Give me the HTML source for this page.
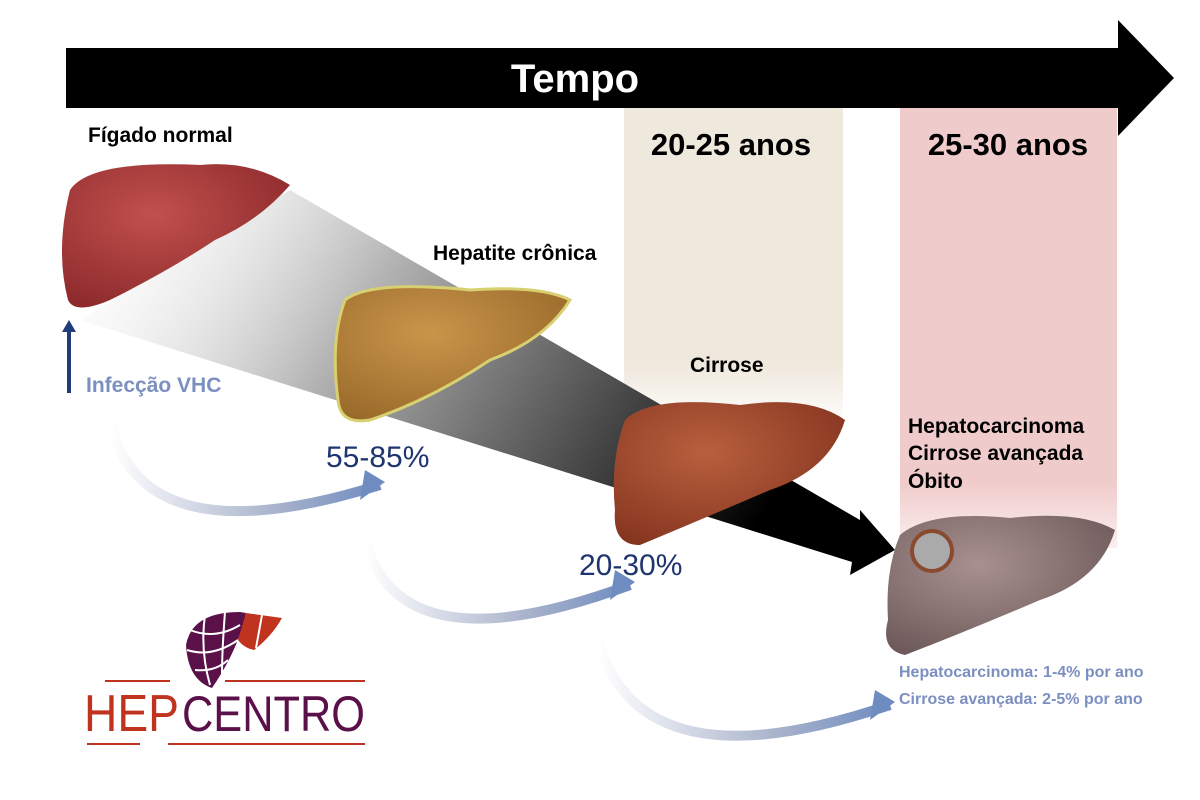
<!DOCTYPE html>
<html><head><meta charset="utf-8"><style>
body{margin:0;background:#fff;}
svg{display:block;font-family:"Liberation Sans",Arial,sans-serif;}
</style></head><body>
<svg width="1200" height="800" viewBox="0 0 1200 800">
<defs>
<linearGradient id="wedge" x1="0" y1="0" x2="1" y2="0.3">
<stop offset="0" stop-color="#fff" stop-opacity="0"/>
<stop offset="0.4" stop-color="#b4b4b4"/>
<stop offset="1" stop-color="#000"/>
</linearGradient>
<linearGradient id="beige" x1="0" y1="0" x2="0" y2="1">
<stop offset="0.8" stop-color="#efe8dc"/><stop offset="1" stop-color="#efe8dc" stop-opacity="0"/>
</linearGradient>
<linearGradient id="pink" x1="0" y1="0" x2="0" y2="1">
<stop offset="0.85" stop-color="#f0cbcb"/><stop offset="1" stop-color="#f0cbcb" stop-opacity="0.3"/>
</linearGradient>
<linearGradient id="curve" x1="0" y1="0" x2="1" y2="0">
<stop offset="0" stop-color="#fff"/><stop offset="0.6" stop-color="#aab4cc"/><stop offset="1" stop-color="#6f8cc0"/>
</linearGradient>
<radialGradient id="lr" cx="0.4" cy="0.35" r="0.7"><stop offset="0" stop-color="#c0504d"/><stop offset="1" stop-color="#8e2a2c"/></radialGradient>
<radialGradient id="lh" cx="0.4" cy="0.35" r="0.7"><stop offset="0" stop-color="#c8954a"/><stop offset="1" stop-color="#9a6a2a"/></radialGradient>
<radialGradient id="lc" cx="0.4" cy="0.35" r="0.7"><stop offset="0" stop-color="#b8603e"/><stop offset="1" stop-color="#863520"/></radialGradient>
<radialGradient id="lg" cx="0.4" cy="0.35" r="0.7"><stop offset="0" stop-color="#a89090"/><stop offset="1" stop-color="#6e5a5a"/></radialGradient>
</defs>
<rect x="624" y="108" width="219" height="320" fill="url(#beige)"/>
<rect x="900" y="108" width="217" height="440" fill="url(#pink)"/>
<rect x="66" y="48" width="1056" height="60" fill="#000"/>
<polygon points="1118,20 1174,78 1118,136" fill="#000"/>
<text x="575" y="92" font-size="40" font-weight="bold" fill="#fff" text-anchor="middle">Tempo</text>
<text x="731" y="155" font-size="31" font-weight="bold" text-anchor="middle">20-25 anos</text>
<text x="1008" y="155" font-size="31" font-weight="bold" text-anchor="middle">25-30 anos</text>
<polygon points="290,190 860,520 860,510 895,550 850,575 852,562 80,320" fill="url(#wedge)"/>
<path d="M70,190 Q90,160 200,165 Q250,160 290,185 Q260,220 215,240 Q170,270 110,300 Q75,315 68,300 Q55,250 70,190Z" fill="url(#lr)"/>
<path d="M345,300 Q370,280 470,290 Q540,285 570,300 Q545,340 490,360 Q430,400 370,420 Q340,425 338,400 Q330,340 345,300Z" fill="url(#lh)" stroke="#d8d070" stroke-width="3"/>
<path d="M625,420 Q650,395 740,405 Q810,395 845,420 Q830,470 770,490 Q700,520 640,545 Q612,545 615,510 Q610,460 625,420Z" fill="url(#lc)"/>
<path d="M900,535 Q930,510 1010,518 Q1080,510 1115,530 Q1100,580 1040,600 Q970,630 905,655 Q880,650 888,620 Q885,570 900,535Z" fill="url(#lg)"/>
<circle cx="932" cy="551" r="20" fill="#aaa" stroke="#8a4a30" stroke-width="4"/>
<path d="M110,420 Q140,560 380,485" fill="none" stroke="url(#curve)" stroke-width="10"/>
<polygon points="365,470 385,482 360,500" fill="#6f8cc0"/>
<path d="M365,540 Q400,670 630,585" fill="none" stroke="url(#curve)" stroke-width="10"/>
<polygon points="615,570 635,582 610,600" fill="#6f8cc0"/>
<path d="M598,640 Q640,790 890,705" fill="none" stroke="url(#curve)" stroke-width="10"/>
<polygon points="875,690 895,702 870,720" fill="#6f8cc0"/>
<line x1="69" y1="393" x2="69" y2="330" stroke="#1f3d7a" stroke-width="4"/>
<polygon points="62,332 69,320 76,332" fill="#1f3d7a"/>
<text x="88" y="142" font-size="21" font-weight="bold">Fígado normal</text>
<text x="433" y="260" font-size="21" font-weight="bold">Hepatite crônica</text>
<text x="690" y="372" font-size="21" font-weight="bold">Cirrose</text>
<text x="908" y="433" font-size="21" font-weight="bold">Hepatocarcinoma</text>
<text x="908" y="460" font-size="21" font-weight="bold">Cirrose avançada</text>
<text x="908" y="488" font-size="21" font-weight="bold">Óbito</text>
<text x="86" y="392" font-size="21" font-weight="bold" fill="#7b8fc0">Infecção VHC</text>
<text x="326" y="467" font-size="30" fill="#1f3570">55-85%</text>
<text x="579" y="575" font-size="30" fill="#1f3570">20-30%</text>
<text x="899" y="677" font-size="16" font-weight="bold" fill="#7b8fc0">Hepatocarcinoma: 1-4% por ano</text>
<text x="899" y="704" font-size="16" font-weight="bold" fill="#7b8fc0">Cirrose avançada: 2-5% por ano</text>
<path d="M186,645 Q192,612 240,612 L246,613 Q238,650 212,688 Q188,680 186,645Z" fill="#5a1048"/>
<path d="M246,613 L282,618 Q272,636 254,650 Q244,648 238,640Z" fill="#c0331f"/>
<g stroke="#fff" stroke-width="2" fill="none">
<path d="M190,630 Q215,640 240,625"/><path d="M187,650 Q212,658 238,640"/><path d="M195,670 Q215,672 228,660"/>
<path d="M205,615 Q200,650 210,685"/><path d="M225,612 Q222,650 222,675"/><path d="M262,615 L256,648"/>
</g>
<line x1="105" y1="681" x2="170" y2="681" stroke="#c0331f" stroke-width="2"/>
<line x1="225" y1="681" x2="365" y2="681" stroke="#c0331f" stroke-width="2"/>
<line x1="87" y1="744" x2="140" y2="744" stroke="#c0331f" stroke-width="2"/>
<line x1="168" y1="744" x2="365" y2="744" stroke="#c0331f" stroke-width="2"/>
<text x="84" y="731" font-size="52" fill="#c0331f" textLength="95" lengthAdjust="spacingAndGlyphs">HEP</text>
<text x="182" y="731" font-size="50" fill="#5a1048" textLength="183" lengthAdjust="spacingAndGlyphs">CENTRO</text>
</svg>
</body></html>
